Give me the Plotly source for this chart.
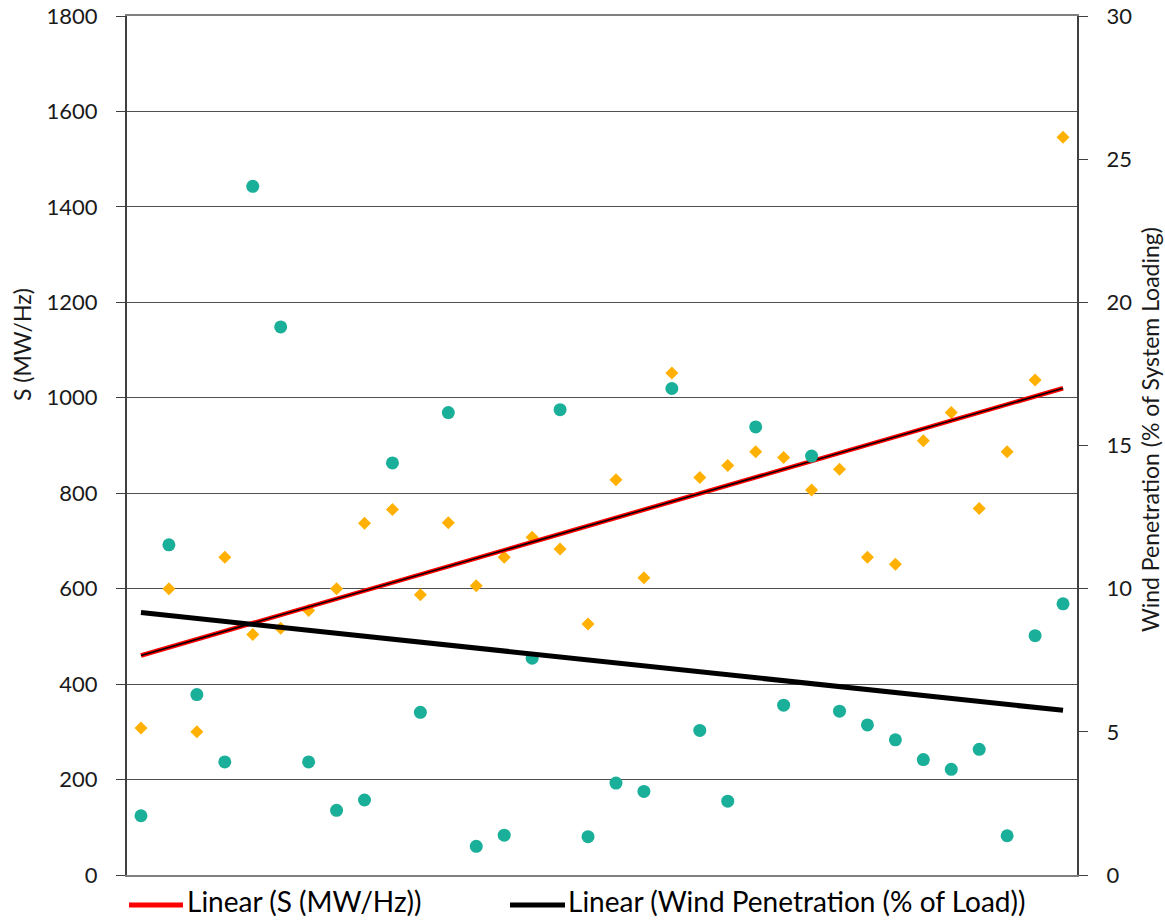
import plotly.graph_objects as go

# ---- data ----
idx = list(range(1, 35))

s_mw_hz = [308, 600, 300, 666, 504, 517, 554, 600, 737, 766,
           587, 738, 606, 666, 708, 683, 526, 828, 623, 1052,
           833, 858, 887, 875, 807, 850, 666, 651, 910, 969,
           768, 887, 1037, 1546]

wind_pen = [2.07, 11.53, 6.30, 3.95, 24.05, 19.14, 3.95, 2.26, 2.62, 14.39,
            5.68, 16.15, 1.00, 1.39, 7.57, 16.25, 1.34, 3.21, 2.92, 16.99,
            5.05, 2.58, 15.65, 5.93, 14.63, 5.72, 5.24, 4.72, 4.03, 3.69,
            4.39, 1.37, 8.36, 9.47]

trend_x = [1, 34]
trend_s = [460, 1020]        # Linear (S (MW/Hz)) end points
trend_w = [9.17, 5.75]       # Linear (Wind Penetration) end points

left_ticks = list(range(0, 1801, 200))
right_ticks = list(range(0, 31, 5))

TEAL = "#1AAF98"
ORANGE = "#FFB000"
FONT = "Lato"

fig = go.Figure()

fig.add_trace(go.Scatter(x=idx, y=s_mw_hz, mode="markers", name="S (MW/Hz)",
                         marker=dict(symbol="diamond", size=10, color=ORANGE),
                         showlegend=False))
fig.add_trace(go.Scatter(x=idx, y=wind_pen, mode="markers", name="Wind Penetration",
                         yaxis="y2",
                         marker=dict(symbol="circle", size=13, color=TEAL),
                         showlegend=False))
fig.add_trace(go.Scatter(x=trend_x, y=trend_s, mode="lines", name="Linear (S (MW/Hz))",
                         line=dict(color="#FF0000", width=4.5), showlegend=False))
fig.add_trace(go.Scatter(x=trend_x, y=trend_s, mode="lines", name="",
                         line=dict(color="#000000", width=1.5), showlegend=False,
                         hoverinfo="skip"))
fig.add_trace(go.Scatter(x=trend_x, y=trend_w, mode="lines",
                         name="Linear (Wind Penetration (% of Load))", yaxis="y2",
                         line=dict(color="#000000", width=5), showlegend=False))

W, H = 1165, 920
ml, mr, mt, mb = 127, 88, 16, 45
pw = W - ml - mr
ph = H - mt - mb


def px_x(p):
    return (p - ml) / pw


def px_y(p):
    return (H - mb - p) / ph


annotations = [
    dict(text="S (MW/Hz)", xref="paper", yref="paper", x=px_x(22), y=px_y(345),
         textangle=-90, showarrow=False, font=dict(family=FONT, size=23, color="#1a1a1a"),
         xanchor="center", yanchor="middle"),
    dict(text="Wind Penetration (% of System Loading)", xref="paper", yref="paper",
         x=px_x(1150), y=px_y(430), textangle=-90, showarrow=False,
         font=dict(family=FONT, size=23, color="#1a1a1a"),
         xanchor="center", yanchor="middle"),
    dict(text="Linear (S (MW/Hz))", xref="paper", yref="paper", x=px_x(185), y=px_y(901),
         showarrow=False, xanchor="left", yanchor="middle",
         font=dict(family=FONT, size=28, color="#000000")),
    dict(text="Linear (Wind Penetration (% of Load))", xref="paper", yref="paper",
         x=px_x(566), y=px_y(901), showarrow=False, xanchor="left", yanchor="middle",
         font=dict(family=FONT, size=28, color="#000000")),
]

shapes = [
    dict(type="line", xref="paper", yref="paper", x0=px_x(129), x1=px_x(183),
         y0=px_y(905), y1=px_y(905), line=dict(color="#FF0000", width=5)),
    dict(type="line", xref="paper", yref="paper", x0=px_x(510), x1=px_x(565),
         y0=px_y(905), y1=px_y(905), line=dict(color="#000000", width=5)),
]

fig.update_layout(
    width=W, height=H, autosize=False,
    margin=dict(l=ml, r=mr, t=mt, b=mb, pad=0, autoexpand=False),
    paper_bgcolor="white", plot_bgcolor="white",
    font=dict(family=FONT, size=22, color="#1a1a1a"),
    showlegend=False,
    xaxis=dict(range=[0.5, 34.5], showgrid=False, zeroline=False, automargin=False,
               showticklabels=False, ticks="", showline=True, mirror=True,
               linecolor="#7f7f7f", linewidth=2),
    yaxis=dict(range=[0, 1800], tickvals=left_ticks, ticktext=[str(v) for v in left_ticks],
               showgrid=True, gridcolor="#505050", gridwidth=1, zeroline=False,
               automargin=False,
               showline=True, linecolor="#404040", linewidth=2,
               ticks="outside", ticklen=9, tickcolor="#404040", tickwidth=1,
               ticklabelstandoff=14,
               tickfont=dict(family=FONT, size=22, color="#1a1a1a")),
    yaxis2=dict(range=[0, 30], tickvals=right_ticks, ticktext=[str(v) for v in right_ticks],
                overlaying="y", side="right", showgrid=False, zeroline=False,
                automargin=False,
                showline=True, linecolor="#404040", linewidth=2,
                ticks="outside", ticklen=9, tickcolor="#404040", tickwidth=1,
                ticklabelstandoff=14,
                tickfont=dict(family=FONT, size=22, color="#1a1a1a")),
    annotations=annotations,
    shapes=shapes,
)

fig.write_html("out.html")
